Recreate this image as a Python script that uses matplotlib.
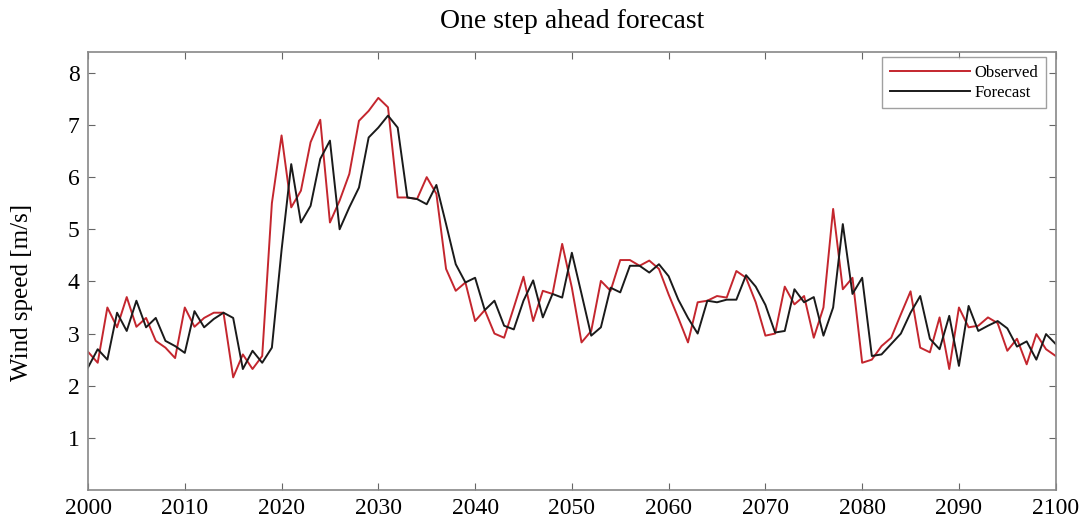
import matplotlib
matplotlib.use("Agg")
import matplotlib.pyplot as plt

years = list(range(2000, 2101))

observed = [
    2.65, 2.44, 3.50, 3.12, 3.70, 3.13, 3.30, 2.86, 2.73, 2.53,   # 2000-2009
    3.50, 3.13, 3.30, 3.40, 3.40, 2.16, 2.60, 2.32, 2.57, 5.50,   # 2010-2019
    6.80, 5.42, 5.74, 6.67, 7.10, 5.13, 5.55, 6.06, 7.08, 7.27,   # 2020-2029
    7.52, 7.34, 5.61, 5.61, 5.58, 6.00, 5.68, 4.24, 3.82, 3.98,   # 2030-2039
    3.24, 3.45, 3.00, 2.92, 3.50, 4.09, 3.24, 3.82, 3.76, 4.72,   # 2040-2049
    3.88, 2.83, 3.05, 4.01, 3.82, 4.41, 4.41, 4.30, 4.40, 4.24,   # 2050-2059
    3.75, 3.30, 2.83, 3.60, 3.63, 3.72, 3.69, 4.20, 4.07, 3.60,   # 2060-2069
    2.96, 3.00, 3.90, 3.56, 3.72, 2.92, 3.50, 5.39, 3.85, 4.07,   # 2070-2079
    2.44, 2.50, 2.76, 2.92, 3.37, 3.81, 2.73, 2.64, 3.31, 2.32,   # 2080-2089
    3.50, 3.12, 3.15, 3.31, 3.20, 2.67, 2.90, 2.41, 2.99, 2.70,   # 2090-2099
    2.57,                                                         # 2100
]

forecast = [
    2.35, 2.70, 2.50, 3.40, 3.05, 3.63, 3.12, 3.30, 2.86, 2.76,   # 2000-2009
    2.63, 3.43, 3.12, 3.28, 3.40, 3.30, 2.32, 2.67, 2.44, 2.73,   # 2010-2019
    4.60, 6.25, 5.13, 5.45, 6.35, 6.70, 5.00, 5.42, 5.80, 6.76,   # 2020-2029
    6.95, 7.18, 6.95, 5.61, 5.58, 5.48, 5.85, 5.10, 4.33, 3.98,   # 2030-2039
    4.07, 3.45, 3.63, 3.15, 3.08, 3.63, 4.02, 3.31, 3.76, 3.69,   # 2040-2049
    4.55, 3.76, 2.96, 3.12, 3.88, 3.79, 4.30, 4.30, 4.17, 4.33,   # 2050-2059
    4.10, 3.65, 3.30, 3.00, 3.63, 3.60, 3.65, 3.65, 4.12, 3.90,   # 2060-2069
    3.55, 3.02, 3.05, 3.85, 3.60, 3.70, 2.96, 3.50, 5.10, 3.76,   # 2070-2079
    4.07, 2.57, 2.60, 2.80, 3.00, 3.40, 3.72, 2.90, 2.70, 3.34,   # 2080-2089
    2.38, 3.53, 3.05, 3.15, 3.24, 3.10, 2.75, 2.85, 2.50, 2.99,   # 2090-2099
    2.80,                                                         # 2100
]

x_ticks = list(range(2000, 2101, 10))
y_ticks = [1, 2, 3, 4, 5, 6, 7, 8]

plt.rcParams['font.family'] = ['Liberation Serif', 'DejaVu Serif']

fig = plt.figure(figsize=(10.8, 5.22), dpi=100)
ax = fig.add_axes([0.0815, 0.0613, 0.896, 0.8391])

ax.plot(years, observed, color='#c4262e', lw=1.4, label='Observed')
ax.plot(years, forecast, color='#1a1a1a', lw=1.4, label='Forecast')

ax.set_xlim(2000, 2100)
ax.set_ylim(0, 8.4)
ax.set_xticks(x_ticks)
ax.set_yticks(y_ticks)
ax.tick_params(direction='in', top=True, right=True, length=5, width=0.8,
               color='#666666', labelsize=17, pad=6)
for s in ax.spines.values():
    s.set_color('#888888')
    s.set_linewidth(1.2)

ax.set_ylabel('Wind speed [m/s]', fontsize=18)
ax.yaxis.set_label_coords(-0.057, 0.452)
ax.set_title('One step ahead forecast', fontsize=20, pad=17)

leg = ax.legend(loc='upper right', fontsize=12, frameon=True, fancybox=False,
                edgecolor='#888888', handlelength=4.8, borderpad=0.45,
                labelspacing=0.25, handletextpad=0.3, borderaxespad=0.0,
                bbox_to_anchor=(0.99, 0.988))
leg.get_frame().set_linewidth(1.0)

fig.savefig('out.png', dpi=100)
